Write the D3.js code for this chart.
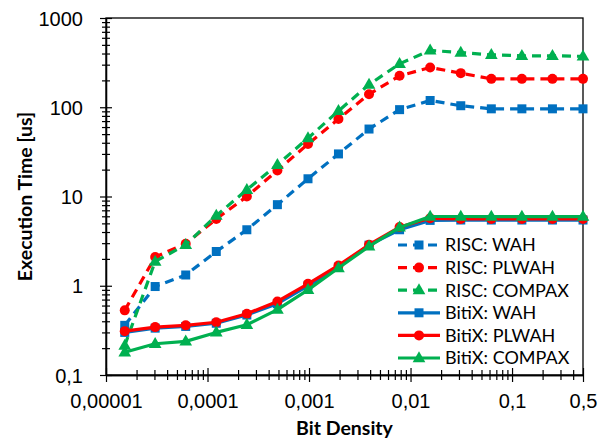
<!DOCTYPE html>
<html>
<head>
<meta charset="utf-8">
<script src="https://cdn.jsdelivr.net/npm/d3@7"></script>
<style>
  html, body { margin: 0; padding: 0; background: #fff; }
  svg { display: block; font-family: Lato, "Open Sans", sans-serif; }
</style>
</head>
<body>
<svg id="chart" width="604" height="443"></svg>
<script>
// ---- data ----
const bitDensity = [0.0000153, 0.0000305, 0.000061, 0.000122, 0.000244, 0.000488, 0.000977, 0.00195,
                    0.0039, 0.0078, 0.0156, 0.03125, 0.0625, 0.125, 0.25, 0.5];
const riscWAH     = [0.36, 0.98, 1.32, 2.42, 4.24, 8.1, 15.8, 30, 57, 94, 119, 104, 96, 96, 96, 96];
const riscPLWAH   = [0.53, 2.1, 2.96, 5.6, 10.0, 19.6, 38.7, 74, 140, 225, 279, 241, 208, 208, 208, 208];
const riscCOMPAX  = [0.214, 1.87, 2.88, 6.1, 11.9, 22.7, 45, 91, 179, 307, 433, 410, 387, 377, 377, 372];
const bitixWAH    = [0.30, 0.335, 0.35, 0.38, 0.47, 0.63, 1.0, 1.62, 2.85, 4.24, 5.4, 5.45, 5.45, 5.45, 5.45, 5.45];
const bitixPLWAH  = [0.31, 0.344, 0.36, 0.39, 0.485, 0.667, 1.05, 1.69, 2.88, 4.55, 5.7, 5.6, 5.6, 5.6, 5.6, 5.6];
const bitixCOMPAX = [0.18, 0.224, 0.238, 0.30, 0.366, 0.54, 0.9, 1.58, 2.76, 4.5, 5.97, 5.97, 5.95, 5.95, 5.95, 5.95];

const seriesNames = ["RISC: WAH", "RISC: PLWAH", "RISC: COMPAX", "BitiX: WAH", "BitiX: PLWAH", "BitiX: COMPAX"];
const seriesValues = [riscWAH, riscPLWAH, riscCOMPAX, bitixWAH, bitixPLWAH, bitixCOMPAX];
const seriesColors = ["#0070C0", "#FF0000", "#00B050", "#0070C0", "#FF0000", "#00B050"];
const seriesDashed = [true, true, true, false, false, false];
const seriesMarkers = ["square", "circle", "triangle", "square", "circle", "triangle"];

const xTickValues = [0.00001, 0.0001, 0.001, 0.01, 0.1, 0.5];
const xTickLabels = ["0,00001", "0,0001", "0,001", "0,01", "0,1", "0,5"];
const yTickValues = [0.1, 1, 10, 100, 1000];
const yTickLabels = ["0,1", "1", "10", "100", "1000"];

const xTitle = "Bit Density";
const yTitle = "Execution Time [us]";

// ---- layout ----
const L = 106, R = 583, T = 18, B = 375;
const svg = d3.select("#chart");

const x = d3.scaleLog().domain([0.00001, 0.5]).range([L, R]);
const y = d3.scaleLog().domain([0.1, 1000]).range([B, T]);

// minor ticks
function minorTicks(lo, hi) {
  const out = [];
  for (let e = Math.floor(Math.log10(lo)); e <= Math.ceil(Math.log10(hi)); e++) {
    for (let k = 2; k <= 9; k++) {
      const v = k * Math.pow(10, e);
      if (v > lo * 1.0001 && v < hi * 0.9999) out.push(v);
    }
  }
  return out;
}

const tickFont = 20;
const legendFont = 18;

// frame
svg.append("rect").attr("x", L).attr("y", T).attr("width", R - L).attr("height", B - T)
  .attr("fill", "none").attr("stroke", "#000").attr("stroke-width", 1.3);

// x axis
const gx = svg.append("g").attr("transform", `translate(0,${B})`);
gx.call(d3.axisBottom(x).tickValues(minorTicks(0.00001, 0.5)).tickFormat("").tickSizeOuter(0));
gx.selectAll(".tick line").attr("y1", -5).attr("y2", 5);
const gx2 = svg.append("g").attr("transform", `translate(0,${B})`);
gx2.call(d3.axisBottom(x).tickValues(xTickValues).tickFormat((d, i) => xTickLabels[i]).tickSizeOuter(0));
gx2.selectAll(".tick line").attr("y1", -7).attr("y2", 7);
gx2.selectAll(".tick text").attr("y", 33).attr("dy", null)
  .style("font-size", tickFont + "px").attr("fill", "#000");

// y axis
const gy = svg.append("g").attr("transform", `translate(${L},0)`);
gy.call(d3.axisLeft(y).tickValues(minorTicks(0.1, 1000)).tickFormat("").tickSizeOuter(0));
gy.selectAll(".tick line").attr("x1", -4).attr("x2", 4);
const gy2 = svg.append("g").attr("transform", `translate(${L},0)`);
gy2.call(d3.axisLeft(y).tickValues(yTickValues).tickFormat((d, i) => yTickLabels[i]).tickSizeOuter(0));
gy2.selectAll(".tick line").attr("x1", -6).attr("x2", 6);
gy2.selectAll(".tick text").attr("x", -23).attr("dy", "0.36em")
  .style("font-size", tickFont + "px").attr("fill", "#000");
svg.selectAll(".domain").attr("stroke-width", 1.3);
svg.selectAll(".tick line").attr("stroke-width", 1.2);

// titles
svg.append("text").attr("x", (L + R) / 2).attr("y", 435).attr("text-anchor", "middle")
  .style("font-size", "19.5px").style("font-weight", "bold").text(xTitle);
svg.append("text").attr("transform", `translate(32,${(T + B) / 2}) rotate(-90)`).attr("text-anchor", "middle")
  .style("font-size", "19.5px").style("font-weight", "bold").text(yTitle);

// markers
function drawMarker(g, type, cx, cy, color) {
  if (type === "square") {
    g.append("rect").attr("x", cx - 4.5).attr("y", cy - 4.5).attr("width", 9).attr("height", 9).attr("fill", color);
  } else if (type === "circle") {
    g.append("circle").attr("cx", cx).attr("cy", cy).attr("r", 5).attr("fill", color);
  } else {
    g.append("path").attr("d", d3.symbol().type(d3.symbolTriangle).size(70)()).attr("transform", `translate(${cx},${cy + 0.5})`).attr("fill", color);
  }
}

const line = d3.line().x(d => x(d[0])).y(d => y(d[1]));
seriesValues.forEach((vals, si) => {
  const g = svg.append("g");
  const pts = bitDensity.map((d, i) => [d, vals[i]]);
  g.append("path").attr("d", line(pts)).attr("fill", "none")
    .attr("stroke", seriesColors[si]).attr("stroke-width", 3.2)
    .attr("stroke-dasharray", seriesDashed[si] ? "9,6" : null)
    .attr("stroke-linejoin", "round");
  pts.forEach(p => drawMarker(g, seriesMarkers[si], x(p[0]), y(p[1]), seriesColors[si]));
});

// legend
const lg = svg.append("g");
seriesNames.forEach((name, i) => {
  const cy = 245 + i * 22.6;
  lg.append("line").attr("x1", 398).attr("x2", 440).attr("y1", cy).attr("y2", cy)
    .attr("stroke", seriesColors[i]).attr("stroke-width", 3.2)
    .attr("stroke-dasharray", seriesDashed[i] ? "9,6" : null);
  drawMarker(lg, seriesMarkers[i], 419, cy, seriesColors[i]);
  lg.append("text").attr("x", 445).attr("y", cy).attr("dy", "0.36em")
    .style("font-size", legendFont + "px").attr("fill", "#000").text(name);
});
</script>
</body>
</html>
